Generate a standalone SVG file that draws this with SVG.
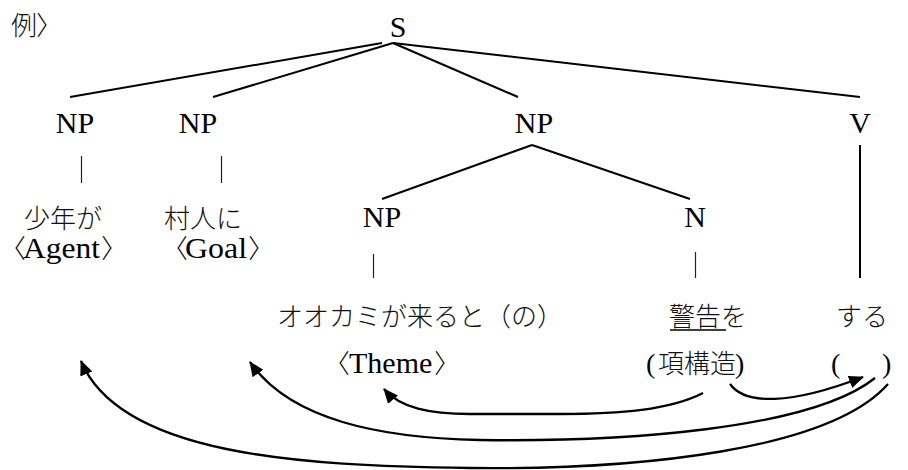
<svg xmlns="http://www.w3.org/2000/svg" width="908" height="470" viewBox="0 0 908 470">
<style>
.lat{font-family:"Liberation Serif","Times New Roman",serif;font-size:30px;fill:#000}
.par{font-family:"Liberation Serif","Times New Roman",serif;font-size:28px;fill:#000}
.jp{font-family:"Noto Sans CJK JP","Noto Sans CJK SC",sans-serif;font-size:26px;font-weight:300;fill:#111}
.br{font-family:"Noto Sans CJK JP","Noto Sans CJK SC",sans-serif;font-size:26px;font-weight:300;fill:#000;font-feature-settings:"palt" 1}
.tl{stroke:#000;stroke-width:2;fill:none}
.bar{stroke:#222;stroke-width:1.2;fill:none}
.arr{stroke:#000;stroke-width:2.3;fill:none;marker-end:url(#ah)}
</style>
<defs>
<marker id="ah" markerUnits="userSpaceOnUse" markerWidth="18" markerHeight="16" refX="14" refY="6.5" orient="auto">
<path d="M0,0 L15,6.5 L0,13 Z" fill="#000"/>
</marker>
</defs>
<rect width="908" height="470" fill="#fff"/>
<g id="label-example"><text class="jp" x="11" y="35">例<tspan class="br" x="37">〉</tspan></text></g>
<g id="node-S"><text class="lat" x="398" y="37" text-anchor="middle">S</text></g>
<g id="node-NP1"><text class="lat" x="75" y="133" text-anchor="middle">NP</text></g>
<g id="node-NP2"><text class="lat" x="198" y="133" text-anchor="middle">NP</text></g>
<g id="node-NP3"><text class="lat" x="534" y="133" text-anchor="middle">NP</text></g>
<g id="node-V"><text class="lat" x="860" y="133" text-anchor="middle">V</text></g>
<g id="node-NP4"><text class="lat" x="382" y="227" text-anchor="middle">NP</text></g>
<g id="node-N"><text class="lat" x="695" y="227" text-anchor="middle">N</text></g>
<g id="word-shonen"><text class="jp" x="24" y="228">少年が</text>
<text class="lat" y="258"><tspan class="br" x="12">〈</tspan><tspan x="23" textLength="77" lengthAdjust="spacingAndGlyphs">Agent</tspan><tspan class="br" x="102">〉</tspan></text></g>
<g id="word-murabito"><text class="jp" x="164" y="228">村人に</text>
<text class="lat" y="258"><tspan class="br" x="174">〈</tspan><tspan x="185" textLength="62" lengthAdjust="spacingAndGlyphs">Goal</tspan><tspan class="br" x="249">〉</tspan></text></g>
<g id="word-ookami"><text class="jp" x="277" y="326">オオカミが来ると（の）</text>
<text class="lat" y="373"><tspan class="br" x="336">〈</tspan><tspan x="349">Theme</tspan><tspan class="br" x="435">〉</tspan></text></g>
<g id="word-keikoku"><text class="jp" x="669" y="326">警告を</text>
<line x1="670" y1="330" x2="726" y2="330" stroke="#000" stroke-width="1.5"/>
<text class="par" y="373"><tspan x="646">(</tspan><tspan class="jp" x="658">項構造</tspan><tspan x="735">)</tspan></text></g>
<g id="word-suru"><text class="jp" x="836" y="326">する</text>
<text class="par" y="373"><tspan x="831">(</tspan><tspan x="882">)</tspan></text></g>
<g id="connectors">
<line class="tl" x1="382" y1="43" x2="70" y2="97"/>
<line class="tl" x1="393" y1="43" x2="213" y2="97"/>
<line class="tl" x1="393" y1="43" x2="518" y2="97"/>
<line class="tl" x1="393" y1="43" x2="860" y2="97"/>
<line class="bar" x1="81.5" y1="156" x2="81.5" y2="183"/>
<line class="bar" x1="221.5" y1="156" x2="221.5" y2="183"/>
<line class="tl" x1="532" y1="145" x2="382" y2="199"/>
<line class="tl" x1="532" y1="145" x2="690" y2="199"/>
<line class="tl" x1="860" y1="145" x2="860" y2="278"/>
<line class="bar" x1="373.5" y1="254" x2="373.5" y2="278"/>
<line class="bar" x1="695.5" y1="252" x2="695.5" y2="278"/>
<path class="arr" d="M703,393 C670,410 620,414 560,414 L470,414 C430,414 400,408 384,389"/>
<path class="arr" d="M730,384 C745,405 790,405 863,377"/>
<path class="arr" d="M875,378 C810,430 620,442 480,440 C380,438 290,420 250,362"/>
<path class="arr" d="M888,384 C830,450 640,470 470,468 C300,466 120,455 81,361"/>
</g>
</svg>
